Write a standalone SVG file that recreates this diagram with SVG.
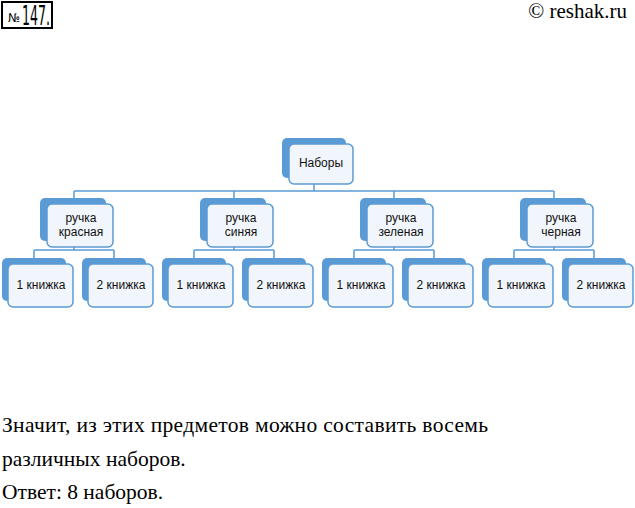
<svg xmlns="http://www.w3.org/2000/svg" width="635" height="508" viewBox="0 0 635 508">
<style>
.back{fill:#5B9BD5;}
.front{fill:#F1F6FC;stroke:#5B9BD5;stroke-width:1.5;}
.lbl{font-family:"Liberation Sans","Open Sans",sans-serif;font-size:12px;fill:#111;text-anchor:middle;}
.con{fill:none;stroke:#5B9BD5;stroke-width:1.5;}
.txt{font-family:"Liberation Serif",serif;font-size:21.5px;fill:#000;}
</style>
<rect width="635" height="508" fill="#fff"/>
<g id="title">
<rect x="2" y="2" width="50" height="26" fill="#fff" stroke="#000" stroke-width="2"/>
<text x="8" y="22" font-family="DejaVu Sans Condensed,DejaVu Sans,sans-serif" font-size="12" textLength="12" lengthAdjust="spacingAndGlyphs">№</text>
<text x="22" y="25" font-family="DejaVu Sans Condensed,DejaVu Sans,sans-serif" font-size="26" font-weight="500" textLength="28" lengthAdjust="spacingAndGlyphs">147.</text>
</g>
<text x="627" y="18" font-family="Liberation Serif,serif" font-size="21" text-anchor="end">© reshak.ru</text>
<g id="connectors">
<path class="con" d="M314,178V191M74,191H554M74,191V198M234,191V198M394,191V198M554,191V198"/>
<path class="con" d="M74,241V250M34,250H114M34,250V258M114,250V258"/>
<path class="con" d="M234,241V250M194,250H274M194,250V258M274,250V258"/>
<path class="con" d="M394,241V250M354,250H434M354,250V258M434,250V258"/>
<path class="con" d="M554,241V250M514,250H594M514,250V258M594,250V258"/>
</g>
<g id="n-root">
<rect class="back" x="282" y="138" width="64" height="40" rx="5"/>
<rect class="front" x="289" y="144" width="64" height="40" rx="5"/>
<text class="lbl" x="321" y="167">Наборы</text>
</g>
<g id="n-red">
<rect class="back" x="40" y="198" width="66" height="43" rx="5"/>
<rect class="front" x="47" y="204" width="66" height="43" rx="5"/>
<text class="lbl" x="81" y="222">ручка</text>
<text class="lbl" x="81" y="236">красная</text>
</g>
<g id="n-blue">
<rect class="back" x="200" y="198" width="66" height="43" rx="5"/>
<rect class="front" x="207" y="204" width="66" height="43" rx="5"/>
<text class="lbl" x="241" y="222">ручка</text>
<text class="lbl" x="241" y="236">синяя</text>
</g>
<g id="n-green">
<rect class="back" x="360" y="198" width="66" height="43" rx="5"/>
<rect class="front" x="367" y="204" width="66" height="43" rx="5"/>
<text class="lbl" x="401" y="222">ручка</text>
<text class="lbl" x="401" y="236">зеленая</text>
</g>
<g id="n-black">
<rect class="back" x="520" y="198" width="66" height="43" rx="5"/>
<rect class="front" x="527" y="204" width="66" height="43" rx="5"/>
<text class="lbl" x="561" y="222">ручка</text>
<text class="lbl" x="561" y="236">черная</text>
</g>
<g id="n-r1"><rect class="back" x="2" y="258" width="64" height="43" rx="5"/><rect class="front" x="8" y="264" width="65" height="43" rx="5"/><text class="lbl" x="41" y="289">1 книжка</text></g>
<g id="n-r2"><rect class="back" x="82" y="258" width="64" height="43" rx="5"/><rect class="front" x="88" y="264" width="65" height="43" rx="5"/><text class="lbl" x="121" y="289">2 книжка</text></g>
<g id="n-b1"><rect class="back" x="162" y="258" width="64" height="43" rx="5"/><rect class="front" x="168" y="264" width="65" height="43" rx="5"/><text class="lbl" x="201" y="289">1 книжка</text></g>
<g id="n-b2"><rect class="back" x="242" y="258" width="64" height="43" rx="5"/><rect class="front" x="248" y="264" width="65" height="43" rx="5"/><text class="lbl" x="281" y="289">2 книжка</text></g>
<g id="n-g1"><rect class="back" x="322" y="258" width="64" height="43" rx="5"/><rect class="front" x="328" y="264" width="65" height="43" rx="5"/><text class="lbl" x="361" y="289">1 книжка</text></g>
<g id="n-g2"><rect class="back" x="402" y="258" width="64" height="43" rx="5"/><rect class="front" x="408" y="264" width="65" height="43" rx="5"/><text class="lbl" x="441" y="289">2 книжка</text></g>
<g id="n-k1"><rect class="back" x="482" y="258" width="64" height="43" rx="5"/><rect class="front" x="488" y="264" width="65" height="43" rx="5"/><text class="lbl" x="521" y="289">1 книжка</text></g>
<g id="n-k2"><rect class="back" x="562" y="258" width="64" height="43" rx="5"/><rect class="front" x="568" y="264" width="65" height="43" rx="5"/><text class="lbl" x="601" y="289">2 книжка</text></g>
<text class="txt" x="2" y="432" textLength="486" lengthAdjust="spacing">Значит, из этих предметов можно составить восемь</text>
<text class="txt" x="2" y="466">различных наборов.</text>
<text class="txt" x="2" y="499">Ответ: 8 наборов.</text>
</svg>
